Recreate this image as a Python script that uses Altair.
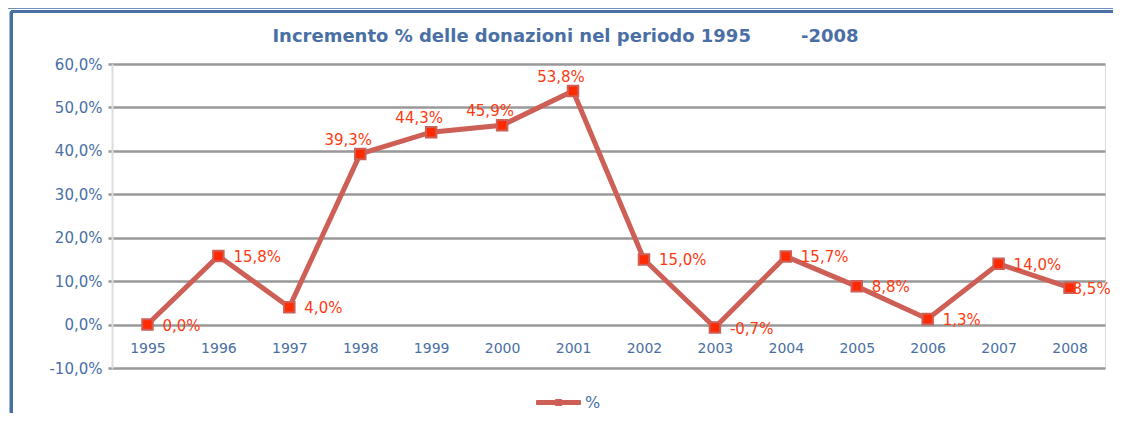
import altair as alt
import pandas as pd

years = ["1995", "1996", "1997", "1998", "1999", "2000", "2001",
         "2002", "2003", "2004", "2005", "2006", "2007", "2008"]
values = [0.0, 15.8, 4.0, 39.3, 44.3, 45.9, 53.8, 15.0, -0.7, 15.7, 8.8, 1.3, 14.0, 8.5]
label_above_years = ["1998", "1999", "2000", "2001"]
label_overlap_years = ["2008"]
series_name = ["%"]

df = pd.DataFrame({"anno": years, "valore": values, "serie": series_name * len(years)})

BLUE = "#4a6fa5"
LINE = "#cd5f57"
RED = "#ff2a00"
LABEL_RED = "#ff3a10"
FONT = "DejaVu Sans"

x = alt.X("anno:N", sort=years, scale=alt.Scale(paddingInner=0, paddingOuter=0),
          axis=alt.Axis(title=None, orient="bottom", offset=-43, domain=False, ticks=False,
                        labelAngle=0, labelColor=BLUE, labelFont=FONT, labelFontSize=14,
                        labelPadding=16, grid=False))
y = alt.Y("valore:Q", scale=alt.Scale(domain=[-10, 60], nice=False, zero=False),
          axis=alt.Axis(title=None, values=[-10, 0, 10, 20, 30, 40, 50, 60],
                        labelExpr="replace(replace(format(datum.value, '.1f'), '.', ','), '\u2212', '-') + '%'",
                        labelColor=BLUE, labelFont=FONT, labelFontSize=15, labelPadding=6,
                        grid=True, gridColor="#999999", gridWidth=2.5,
                        domain=True, domainColor="#dddddd", domainWidth=2,
                        ticks=True, tickColor="#999999", tickSize=4, tickWidth=2.5))

base = alt.Chart(df).encode(x=x, y=y)

legend_symbol = "M-2.2,-0.2H2.2V0.2H-2.2Z M-0.3,-0.3H0.3V0.3H-0.3Z"

line = base.mark_line(strokeWidth=5).encode(
    color=alt.Color("serie:N", scale=alt.Scale(range=[LINE]),
                    legend=alt.Legend(title=None, orient="none", legendX=436, legendY=328,
                                      symbolType=legend_symbol, symbolSize=400,
                                      symbolFillColor=LINE, symbolStrokeColor=LINE,
                                      symbolStrokeWidth=1,
                                      labelColor=BLUE, labelFont=FONT, labelFontSize=16,
                                      labelOffset=16))
)

points = base.mark_square(size=110, fill=RED, stroke=LINE, strokeWidth=2, opacity=1)

labels_df_expr = "replace(replace(format(datum.valore, '.1f'), '.', ','), '\u2212', '-') + '%'"
special = label_above_years + label_overlap_years

labels_right = base.transform_filter(
    ~alt.FieldOneOfPredicate(field="anno", oneOf=special)
).transform_calculate(lab=labels_df_expr).mark_text(
    align="left", baseline="middle", dx=15, dy=1, color=LABEL_RED, font=FONT, fontSize=15
).encode(text="lab:N")

labels_overlap = base.transform_filter(
    alt.FieldOneOfPredicate(field="anno", oneOf=label_overlap_years)
).transform_calculate(lab=labels_df_expr).mark_text(
    align="left", baseline="middle", dx=3, dy=1, color=LABEL_RED, font=FONT, fontSize=15
).encode(text="lab:N")

labels_above = base.transform_filter(
    alt.FieldOneOfPredicate(field="anno", oneOf=label_above_years)
).transform_calculate(lab=labels_df_expr).mark_text(
    align="center", baseline="bottom", dx=-12, dy=-6, color=LABEL_RED, font=FONT, fontSize=15
).encode(text="lab:N")

# chart frame (left and top edges of the outer border)
frame_left_outer = alt.Chart(df).mark_rule(color="#6f8fbf", strokeWidth=1).encode(
    x=alt.value(-104.5), y=alt.value(-55.5), y2=alt.value(400))
frame_left_inner = alt.Chart(df).mark_rule(color=BLUE, strokeWidth=2.7).encode(
    x=alt.value(-100.7), y=alt.value(-52.5), y2=alt.value(400))
frame_top_outer = alt.Chart(df).mark_rule(color="#6f8fbf", strokeWidth=1).encode(
    x=alt.value(-104.5), x2=alt.value(1020), y=alt.value(-55.5))
frame_top_inner = alt.Chart(df).mark_rule(color=BLUE, strokeWidth=2.7).encode(
    x=alt.value(-100.7), x2=alt.value(1020), y=alt.value(-52.3))

title_text = "Incremento % delle donazioni nel periodo 1995" + "\u00a0" * 8 + "-2008"

chart = alt.layer(frame_left_outer, frame_left_inner, frame_top_outer, frame_top_inner,
                  line, points, labels_right, labels_overlap, labels_above).properties(
    width=993, height=304,
    autosize=alt.AutoSizeParams(type="none"),
    padding={"left": 104, "top": 56, "right": 8, "bottom": 45},
    title=alt.TitleParams(title_text, anchor="middle", frame="group", dx=-43, dy=38, offset=0,
                          color=BLUE, font=FONT, fontSize=18, fontWeight="bold")
).configure_view(stroke=None).configure(background="white")

chart.save("out.html", embed_options={"renderer": "svg", "actions": False})
